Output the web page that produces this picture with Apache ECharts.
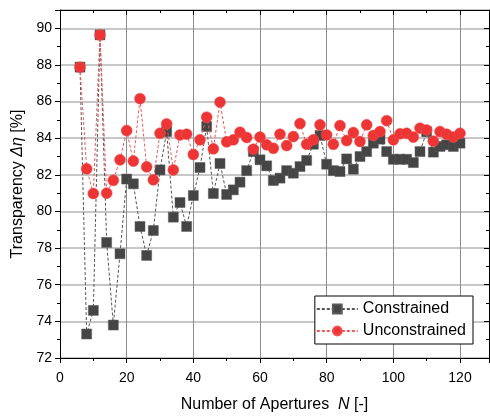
<!DOCTYPE html>
<html>
<head>
<meta charset="utf-8">
<script src="https://cdn.jsdelivr.net/npm/echarts@6/dist/echarts.min.js"></script>
<style>
  html, body { margin: 0; padding: 0; background: #fff; }
  #chart { width: 490px; height: 420px; }
</style>
</head>
<body>
<div id="chart"></div>
<script>
// Number of apertures N (even values 6..120)
const apertures = [6,8,10,12,14,16,18,20,22,24,26,28,30,32,34,36,38,40,42,44,46,48,50,
  52,54,56,58,60,62,64,66,68,70,72,74,76,78,80,82,84,86,88,90,92,94,96,98,100,
  102,104,106,108,110,112,114,116,118,120];

// Transparency Δη [%] for the constrained optimisation
const constrained = [87.88,73.31,74.6,89.64,78.31,73.8,77.69,81.77,81.51,79.18,77.6,78.96,82.27,84.36,
  79.69,80.49,79.18,80.87,82.4,84.64,80.98,82.62,80.93,81.18,81.6,82.23,83.27,82.82,82.49,
  81.69,81.82,82.23,82.09,82.45,82.79,83.67,84.15,82.58,82.23,82.18,82.87,82.31,83.0,83.27,
  83.73,83.95,83.27,82.85,82.85,82.85,82.67,83.27,84.35,83.24,83.55,83.64,83.55,83.73];

// Transparency Δη [%] for the unconstrained optimisation
const unconstrained = [87.88,82.33,80.98,89.64,81.0,81.7,82.82,84.42,82.75,86.16,82.44,81.73,84.27,84.78,
  82.27,84.18,84.22,83.11,83.91,85.15,83.42,85.97,83.8,83.91,84.33,84.04,83.4,84.06,83.64,
  83.45,84.22,83.6,84.09,84.8,83.67,83.91,84.73,84.18,83.67,84.69,83.87,84.31,83.82,84.73,
  84.15,84.36,84.96,83.91,84.24,84.27,84.06,84.55,84.45,83.84,84.36,84.22,84.06,84.27];

const xTicks = [0, 20, 40, 60, 80, 100, 120];
const yTicks = [72, 74, 76, 78, 80, 82, 84, 86, 88, 90];

const FONT = '"Liberation Sans", Arial, sans-serif';
const pairs = (ys) => apertures.map((n, i) => [n, ys[i]]);

const chart = echarts.init(document.getElementById('chart'), null, { renderer: 'canvas' });

const tickLabel = { color: '#000', fontFamily: FONT, fontSize: 14 };

chart.setOption({
  animation: false,
  backgroundColor: '#fff',
  grid: { left: 60, right: 1, top: 10, bottom: 62, containLabel: false },
  xAxis: [
    {
      type: 'value', min: 0, max: 128.7, interval: 20, position: 'bottom',
      name: '{a|Number of Apertures  }{i|N}{a| [-]}',
      nameLocation: 'middle', nameGap: 39,
      nameTextStyle: {
        rich: {
          a: { fontFamily: FONT, fontSize: 16, color: '#000' },
          i: { fontFamily: FONT, fontSize: 16, color: '#000', fontStyle: 'italic' }
        }
      },
      axisLine: { onZero: false, lineStyle: { color: '#000', width: 1 } },
      axisTick: { inside: false, length: 5, lineStyle: { color: '#000' } },
      minorTick: { show: true, splitNumber: 2, length: 3, lineStyle: { color: '#000' } },
      axisLabel: {
        ...tickLabel, margin: 13, showMaxLabel: false,
        formatter: (v) => (xTicks.includes(v) ? String(v) : '')
      },
      splitLine: { show: true, lineStyle: { color: '#8c8c8c', width: 1 } }
    },
    {
      type: 'value', min: 0, max: 128.7, interval: 20, position: 'top',
      axisLine: { onZero: false, lineStyle: { color: '#000', width: 1 } },
      axisTick: { inside: true, length: 5, lineStyle: { color: '#000' } },
      minorTick: { show: true, splitNumber: 2, length: 3, lineStyle: { color: '#000' } },
      axisLabel: { show: false },
      splitLine: { show: false }
    }
  ],
  yAxis: [
    {
      type: 'value', min: 72, max: 91, interval: 2, position: 'left',
      name: '{a|Transparency }{i|Δη}{a| [%]}',
      nameLocation: 'middle', nameGap: 34, nameRotate: 90,
      nameTextStyle: {
        rich: {
          a: { fontFamily: FONT, fontSize: 16, color: '#000' },
          i: { fontFamily: FONT, fontSize: 16, color: '#000', fontStyle: 'italic' }
        }
      },
      axisLine: { onZero: false, lineStyle: { color: '#000', width: 1 } },
      axisTick: { inside: false, length: 5, lineStyle: { color: '#000' } },
      minorTick: { show: true, splitNumber: 2, length: 3, lineStyle: { color: '#000' } },
      axisLabel: {
        ...tickLabel, margin: 8, showMaxLabel: false,
        formatter: (v) => (yTicks.includes(v) ? String(v) : '')
      },
      splitLine: { show: true, lineStyle: { color: '#b4b4b4', width: 1.5 } }
    },
    {
      type: 'value', min: 72, max: 91, interval: 2, position: 'right',
      axisLine: { onZero: false, lineStyle: { color: '#000', width: 1 } },
      axisTick: { inside: true, length: 5, lineStyle: { color: '#000' } },
      minorTick: { show: true, splitNumber: 2, length: 3, lineStyle: { color: '#000' } },
      axisLabel: { show: false },
      splitLine: { show: false }
    }
  ],
  legend: {
    orient: 'vertical',
    right: 17, bottom: 76,
    backgroundColor: '#fff',
    borderColor: '#000', borderWidth: 1, borderRadius: 0,
    padding: [5, 7, 5, 1],
    itemGap: 6,
    itemWidth: 41, itemHeight: 11,
    textStyle: { fontFamily: FONT, fontSize: 16, color: '#000' },
    data: ['Constrained', 'Unconstrained']
  },
  series: [
    {
      name: 'Constrained', type: 'line',
      data: pairs(constrained),
      symbol: 'rect', symbolSize: 10,
      itemStyle: { color: '#454545', borderColor: '#5a5a5a', borderWidth: 0.5 },
      lineStyle: { color: '#555', width: 1, type: [3, 2] },
      z: 2
    },
    {
      name: 'Unconstrained', type: 'line',
      data: pairs(unconstrained),
      symbol: 'circle', symbolSize: 11,
      itemStyle: { color: '#ee3535', borderColor: '#f05050', borderWidth: 0.5 },
      lineStyle: { color: '#f25a5a', width: 1, type: [3, 2] },
      z: 3
    }
  ]
});
</script>
</body>
</html>
